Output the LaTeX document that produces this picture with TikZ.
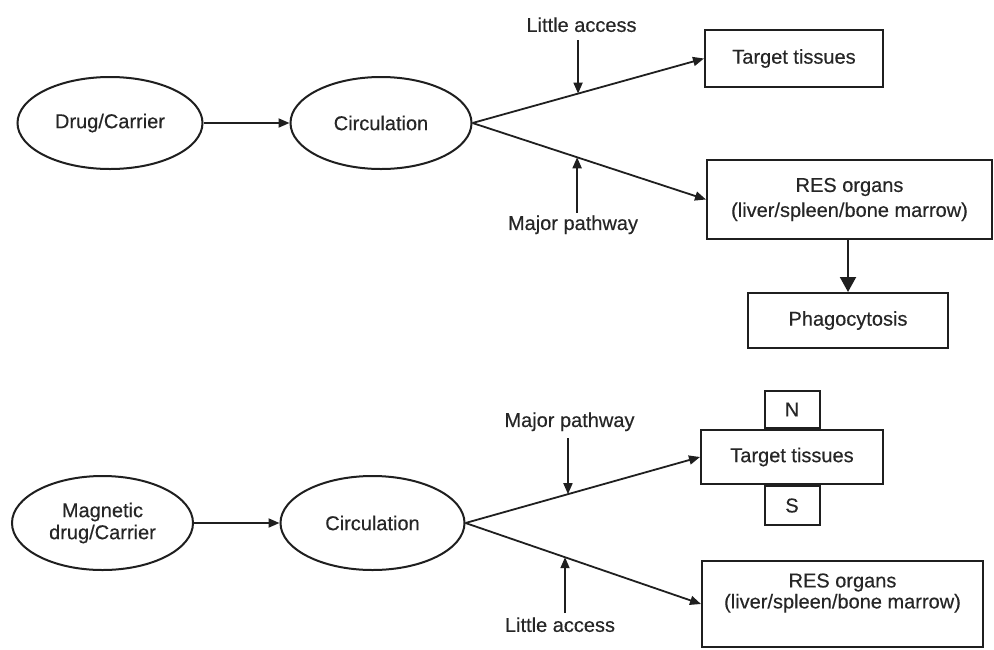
\documentclass[tikz,border=0pt]{standalone}
\usepackage{fontspec}
\setmainfont{Liberation Sans}[FakeBold=0.35]
\usetikzlibrary{shapes.geometric,arrows.meta,calc}
\begin{document}
\begin{tikzpicture}[x=1pt,y=-1pt,
  every node/.style={font=\fontsize{20}{24}\selectfont, text=black!85},
  oval/.style={draw=black!88, ellipse, line width=2pt, inner sep=0pt},
  box/.style={draw=black!88, rectangle, line width=2pt, inner sep=0pt},
  arr/.style={draw=black!88, line width=1.8pt, -{Triangle[length=11pt,width=9pt]}},
  bigarr/.style={draw=black!88, line width=2pt, -{Triangle[length=15pt,width=16pt]}},
  lbl/.style={inner sep=0pt}]
\useasboundingbox[fill=white] (0,0) rectangle (994,649);

% ---------- top section ----------
\node[oval, minimum width=185pt, minimum height=92pt] (dc1) at (110,123) {Drug/Carrier};
\node[oval, minimum width=181pt, minimum height=92pt] (circ1) at (381,123) {Circulation};
\node[box, minimum width=178pt, minimum height=57pt] (tt1) at (794,58.5) {Target tissues};
\node[box, minimum width=285pt, minimum height=79pt, align=center,
      font=\fontsize{20}{25}\selectfont] (res1) at (849.5,199.5) {RES organs\\(liver/spleen/bone marrow)};
\node[box, minimum width=200pt, minimum height=55pt] (phag) at (848,320.5) {Phagocytosis};

\draw[arr] (dc1.east) -- (circ1.west);
\draw[arr] (circ1.east) -- (tt1.west);
\draw[arr] (circ1.east) -- (res1.west);
\draw[bigarr] (phag.north |- res1.south) -- (phag.north);

\coordinate (p1) at ($(circ1.east)!0.456!(tt1.west)$);
\coordinate (p2) at ($(circ1.east)!0.448!(res1.west)$);
\node[lbl] (la1) at (581.5,24.7) {Little access};
\node[lbl] (mp1) at (573,224.8) {Major pathway};
\draw[arr] ($(p1 |- la1.south)+(0,8)$) -- (p1);
\draw[arr] ($(p2 |- mp1.north)+(0,-2.5)$) -- (p2);

% ---------- bottom section ----------
\node[oval, minimum width=181pt, minimum height=94pt, align=center,
      font=\fontsize{20}{22}\selectfont] (mdc) at (102.5,523) {Magnetic\\drug/Carrier};
\node[oval, minimum width=184pt, minimum height=94pt] (circ2) at (372.5,523) {Circulation};
\node[box, minimum width=182pt, minimum height=54pt] (tt2) at (792,457) {Target tissues};
\node[box, minimum width=55pt, minimum height=37pt, anchor=south] (nb) at (tt2.north) {N};
\node[box, minimum width=55pt, minimum height=39pt, anchor=north] (sb) at (tt2.south) {S};
\node[box, minimum width=281pt, minimum height=86pt] (res2) at (842.5,604) {};
\node[align=center, inner sep=0pt, font=\fontsize{20}{21}\selectfont] (res2t) at (842.5,593) {RES organs\\(liver/spleen/bone marrow)};

\draw[arr] (mdc.east) -- (circ2.west);
\draw[arr] (circ2.east) -- (tt2.west);
\draw[arr] (circ2.east) -- (res2.west);

\coordinate (p3) at ($(circ2.east)!0.437!(tt2.west)$);
\coordinate (p4) at ($(circ2.east)!0.4226!(res2.west)$);
\node[lbl] (mp2) at (569.5,421.8) {Major pathway};
\node[lbl] (la2) at (560,624.7) {Little access};
\draw[arr] ($(p3 |- mp2.south)+(0,7)$) -- (p3);
\draw[arr] ($(p4 |- la2.north)+(0,-4)$) -- (p4);
\end{tikzpicture}
\end{document}
